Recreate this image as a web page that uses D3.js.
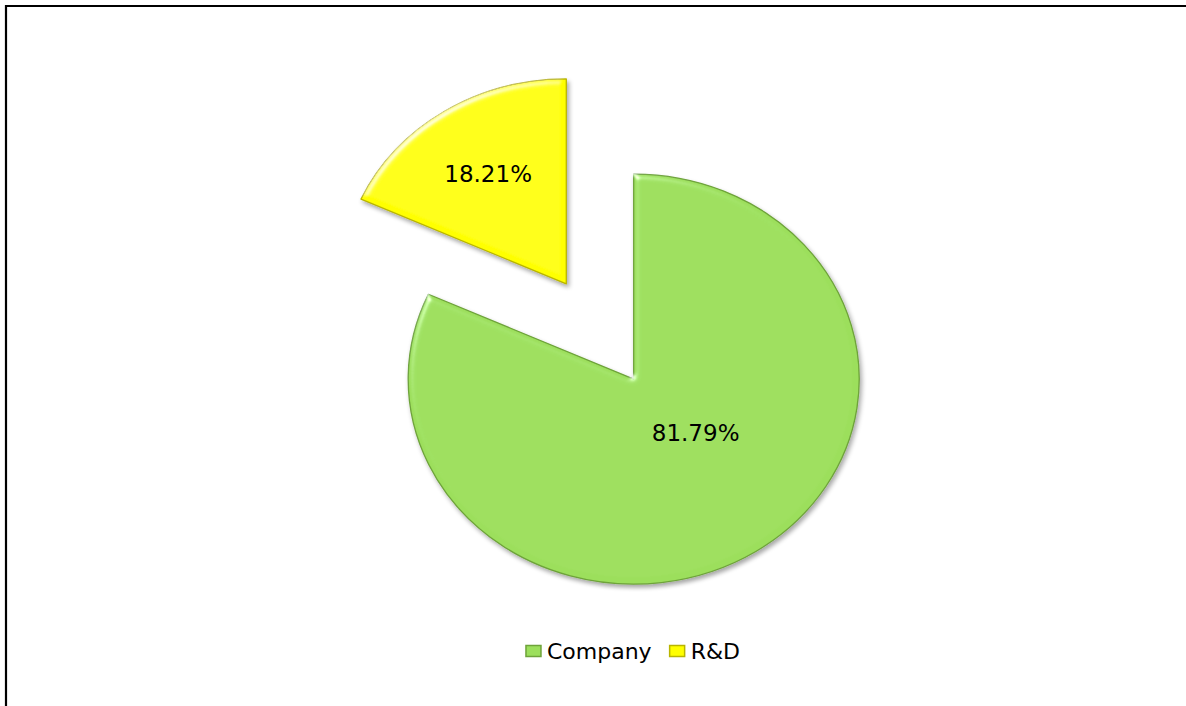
<!DOCTYPE html>
<html>
<head>
<meta charset="utf-8">
<script src="https://cdn.jsdelivr.net/npm/d3@7"></script>
<style>
  html, body { margin: 0; padding: 0; background: #fff; }
  svg { display: block; }
  text { font-family: "DejaVu Sans", Verdana, sans-serif; fill: #000; }
</style>
</head>
<body>
<svg id="chart" width="1186" height="706"></svg>
<script>
// Share of spending by unit
const categories = ["Company", "R&D"];
const shares = [81.79, 18.21];
const sliceLabels = ["81.79%", "18.21%"];

const fills = ["#9cdf5c", "#ffff00"];
const edges = ["#6ea33a", "#b9b500"];

const width = 1186, height = 706;
const svg = d3.select("#chart");

// defs: soft bevel + drop shadow
const defs = svg.append("defs");
const f = defs.append("filter").attr("id", "bevel")
  .attr("x", "-10%").attr("y", "-10%").attr("width", "120%").attr("height", "120%");
f.append("feGaussianBlur").attr("in", "SourceAlpha").attr("stdDeviation", 3).attr("result", "blur");
const spec = f.append("feSpecularLighting").attr("in", "blur")
  .attr("surfaceScale", 3).attr("specularConstant", 0.6).attr("specularExponent", 40)
  .attr("lighting-color", "#ffffff").attr("result", "spec");
spec.append("feDistantLight").attr("azimuth", 235).attr("elevation", 40);
f.append("feComposite").attr("in", "spec").attr("in2", "SourceAlpha").attr("operator", "in").attr("result", "specIn");
f.append("feComposite").attr("in", "SourceGraphic").attr("in2", "specIn")
  .attr("operator", "arithmetic").attr("k1", 0).attr("k2", 1).attr("k3", 1).attr("k4", 0).attr("result", "lit");
f.append("feGaussianBlur").attr("in", "SourceAlpha").attr("stdDeviation", 2.2).attr("result", "sblur");
f.append("feOffset").attr("in", "sblur").attr("dx", 2).attr("dy", 2.5).attr("result", "soff");
f.append("feComponentTransfer").attr("in", "soff").attr("result", "shadow")
  .append("feFuncA").attr("type", "linear").attr("slope", 0.35);
const merge = f.append("feMerge");
merge.append("feMergeNode").attr("in", "shadow");
merge.append("feMergeNode").attr("in", "lit");

// frame lines
svg.append("path")
  .attr("d", `M6,${height} V6 H${width}`)
  .attr("fill", "none").attr("stroke", "#000").attr("stroke-width", 2.2);

// pie geometry
const cx = 600, cy = 331.5;
const radius = 205;
const stretchX = 1.1;        // plot is slightly wider than tall
const explode = 56.6;

const pie = d3.pie().sort(null).startAngle(0).endAngle(2 * Math.PI);
const arcs = pie(shares);
const arc = d3.arc().innerRadius(0).outerRadius(radius);

const mid = d => (d.startAngle + d.endAngle) / 2;

const plot = svg.append("g")
  .attr("transform", `translate(${cx},${cy}) scale(${stretchX},1)`);

const slices = plot.selectAll("g.slice")
  .data(arcs)
  .join("g")
  .attr("class", "slice")
  .attr("transform", d => `translate(${explode * Math.sin(mid(d))},${-explode * Math.cos(mid(d))})`);

slices.append("path")
  .attr("d", arc)
  .attr("fill", (d, i) => fills[i])
  .attr("stroke", (d, i) => edges[i])
  .attr("stroke-width", 1.2)
  .attr("stroke-linejoin", "round")
  .attr("filter", "url(#bevel)");

// data labels: placed along a ray from each slice's tip
const labelR = [0.38, 0.64];
const labelTurn = [-13.5 * Math.PI / 180, 0];
svg.append("g").selectAll("text")
  .data(arcs)
  .join("text")
  .attr("x", (d, i) => {
    const a = mid(d) + labelTurn[i];
    const tipX = explode * Math.sin(mid(d));
    return cx + stretchX * (tipX + labelR[i] * radius * Math.sin(a));
  })
  .attr("y", (d, i) => {
    const a = mid(d) + labelTurn[i];
    const tipY = -explode * Math.cos(mid(d));
    return cy + tipY - labelR[i] * radius * Math.cos(a);
  })
  .attr("text-anchor", "middle")
  .attr("dominant-baseline", "central")
  .attr("font-size", 23)
  .text((d, i) => sliceLabels[i]);

// legend
const legend = svg.append("g").attr("transform", "translate(0,651)");
const keyW = 15, keyH = 11, gapText = 6, gapItem = 18;
const fontSize = 22;
const tmp = legend.append("text").attr("font-size", fontSize);
const widths = categories.map(c => { tmp.text(c); return tmp.node().getComputedTextLength(); });
tmp.remove();
const total = widths.reduce((s, w) => s + keyW + gapText + w, 0) + gapItem * (categories.length - 1);
let x = width / 2 + 40 - total / 2;
categories.forEach((c, i) => {
  legend.append("rect")
    .attr("x", x).attr("y", -keyH / 2)
    .attr("width", keyW).attr("height", keyH)
    .attr("fill", fills[i]).attr("stroke", edges[i]).attr("stroke-width", 1.5);
  legend.append("text")
    .attr("x", x + keyW + gapText).attr("y", 0)
    .attr("dominant-baseline", "central")
    .attr("font-size", fontSize)
    .text(c);
  x += keyW + gapText + widths[i] + gapItem;
});
</script>
</body>
</html>
